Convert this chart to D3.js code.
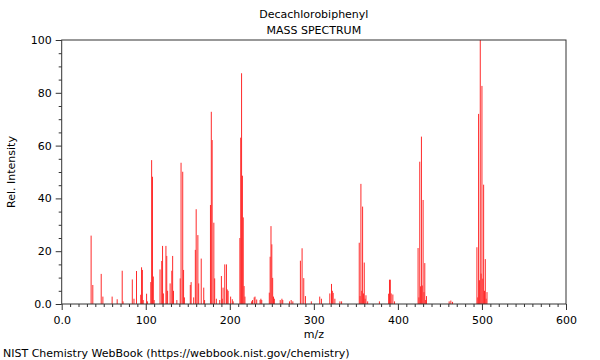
<!DOCTYPE html>
<html>
<head>
<meta charset="utf-8">
<script src="https://cdn.jsdelivr.net/npm/d3@7"></script>
<style>
  html, body { margin: 0; padding: 0; background: #fff; }
  svg text { font-family: "DejaVu Sans", sans-serif; fill: #000; }
</style>
</head>
<body>
<svg id="chart" width="600" height="360"></svg>
<script>
const mz = [35,37,47,49,60,66,72,73,84,86,89,94,95,96,97,101,102,106,107,108,109,110,
  117,119,120,121,124,125,126,129,131,132,133,137,141,142,144,145,146,153,154,157,159,160,162,163,166,169,170,
  177,178,179,181,182,184,188,190,191,192,194,196,197,198,201,203,204,
  212,213,214,215,216,217,218,226,227,229,230,232,236,237,238,
  247,248,249,250,251,252,253,260,262,263,271,273,275,
  284,286,288,290,297,307,309,319,321,322,323,325,331,333,
  354,355,356,357,358,359,360,361,362,364,378,
  389,390,391,392,394,396,
  424,425,426,427,428,429,430,431,432,433,434,461,463,465,
  494,495,496,497,498,499,500,501,502,503,504,505,506];
const intensity = [25.9,7.2,11.4,2.8,2.8,1.8,12.6,1,9.3,2,12.5,3.5,13.9,12.9,1.5,3.9,1,8.3,54.5,48.2,10.4,1.5,
  13.1,16.3,22,4,22,18.2,5,7.8,12.6,18.2,5,1.5,9.7,53.5,50.1,12.9,2.5,7.2,8.3,2.5,20.5,35.9,26.1,7.8,17.2,6.2,1.5,
  37.5,72.8,62.1,30.8,9.7,2,1.5,10.6,2,6.2,15,15,5.5,5,2.8,1.8,1,
  25,63,87.4,48.6,32.8,6.8,2.8,1,1.5,2.5,2.8,1.7,1.5,2,1.5,
  4.3,17.9,29.5,22.6,9.9,2.8,2,1.5,2,1.5,1,1.5,1,
  16.4,21.1,9.8,3,1,2.8,2,4,7.6,5,4.2,2,1,1,
  23.2,3,45.5,5,36.9,4,15.7,2,3.3,1,1,
  3.9,9.2,9.2,4,3.6,1,
  21.2,2.5,53.9,6.7,63.4,7,39.4,4.5,15.5,1.5,3,1,1.3,0.8,
  21.5,2.5,72,9,100,11.5,82.6,9.6,45.2,5,17,2,4.5];
const xMajorTicks = [0,100,200,300,400,500,600];
const yMajorTicks = [0,20,40,60,80,100];
const titleLines = ["Decachlorobiphenyl", "MASS SPECTRUM"];

const svg = d3.select("#chart");
const L = 61.7, R = 566, T = 40, B = 304;
const x = d3.scaleLinear().domain([0,600]).range([L,R]);
const y = d3.scaleLinear().domain([0,100]).range([B,T]);
const fmt = v => v === 0 ? "0.0" : String(v);

// bars
const peaks = mz.map((m,i)=>({m, v: intensity[i]}));
svg.append("g").selectAll("line").data(peaks).enter().append("line")
  .attr("x1", d=>x(d.m)).attr("x2", d=>x(d.m))
  .attr("y1", y(0)).attr("y2", d=>y(d.v))
  .attr("stroke", "#ff2a2a").attr("stroke-width", 1);

// minor ticks
const xMinor = d3.range(0, 601, 10).filter(v => v % 100 !== 0);
const yMinor = d3.range(0, 101, 5).filter(v => v % 20 !== 0);
const gxm = svg.append("g").attr("transform", `translate(0,${B})`)
  .call(d3.axisBottom(x).tickValues(xMinor).tickSize(3).tickFormat(""));
const gym = svg.append("g").attr("transform", `translate(${L},0)`)
  .call(d3.axisLeft(y).tickValues(yMinor).tickSize(3).tickFormat(""));
// major
const gx = svg.append("g").attr("transform", `translate(0,${B})`)
  .call(d3.axisBottom(x).tickValues(xMajorTicks).tickSize(6).tickPadding(6).tickFormat(fmt));
const gy = svg.append("g").attr("transform", `translate(${L},0)`)
  .call(d3.axisLeft(y).tickValues(yMajorTicks).tickSize(6).tickPadding(4).tickFormat(fmt));
[gxm,gym,gx,gy].forEach(g => {
  g.select(".domain").remove();
  g.selectAll("line").attr("stroke", "#333");
  g.selectAll("text").attr("font-size", 11).attr("font-family", "DejaVu Sans").attr("fill", "#000");
});

// frame
svg.append("rect").attr("x", L).attr("y", T).attr("width", R-L).attr("height", B-T)
  .attr("fill", "none").attr("stroke", "#333").attr("stroke-width", 1);

// titles
svg.append("text").attr("x", (L+R)/2).attr("y", 18).attr("text-anchor","middle")
  .attr("font-size", 11).text(titleLines[0]);
svg.append("text").attr("x", (L+R)/2).attr("y", 34).attr("text-anchor","middle")
  .attr("font-size", 11).text(titleLines[1]);
svg.append("text").attr("x", (L+R)/2).attr("y", 338).attr("text-anchor","middle")
  .attr("font-size", 11).text("m/z");
svg.append("text").attr("transform", `translate(15,${(T+B)/2}) rotate(-90)`).attr("text-anchor","middle")
  .attr("font-size", 11).text("Rel. Intensity");
svg.append("text").attr("x", 3).attr("y", 357).attr("font-size", 11)
  .text("NIST Chemistry WebBook (https://webbook.nist.gov/chemistry)");
</script>
</body>
</html>
